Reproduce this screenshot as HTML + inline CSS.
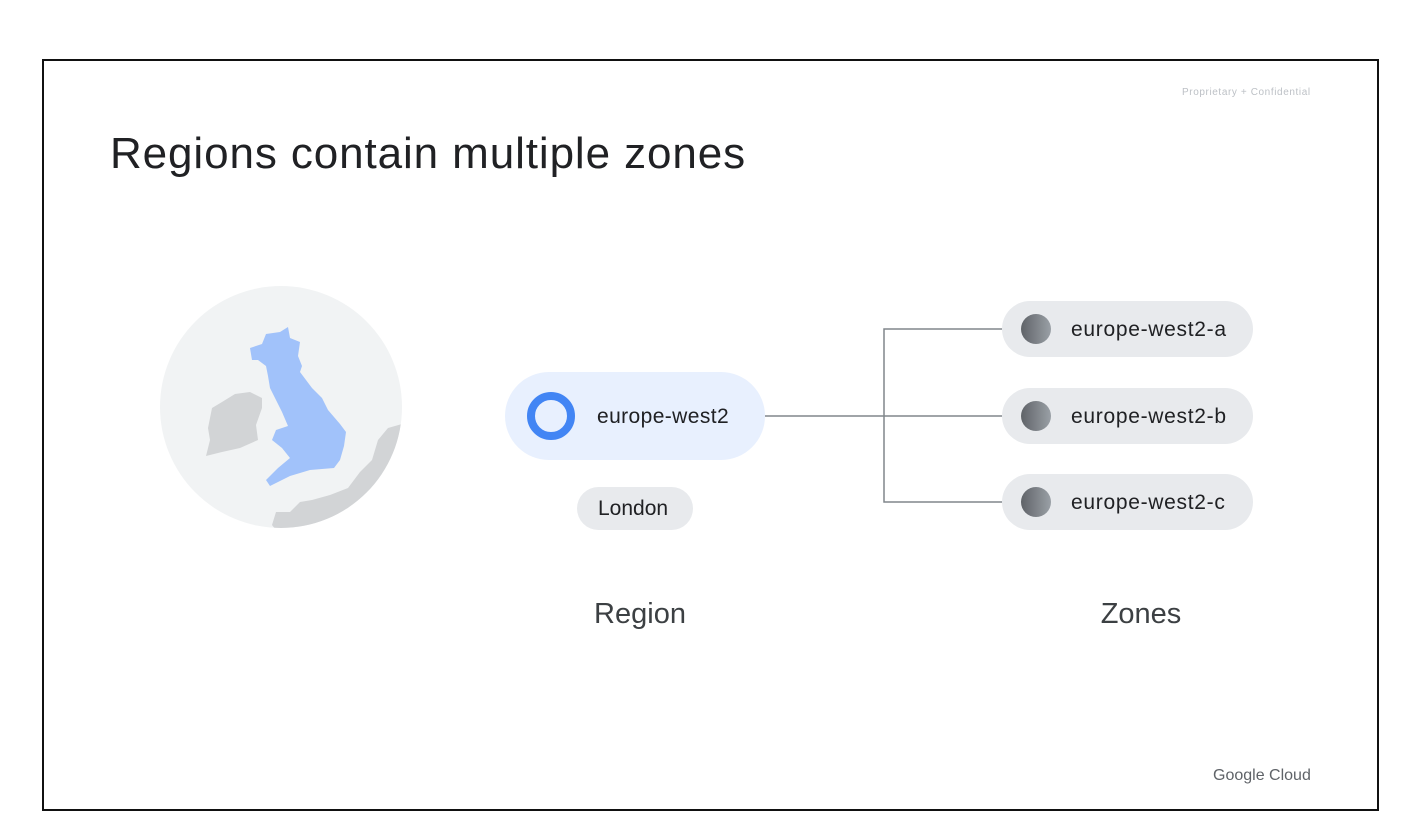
<!DOCTYPE html>
<html><head><meta charset="utf-8"><style>
body{margin:0;width:1410px;height:840px;background:#fff;font-family:"Liberation Sans",sans-serif;position:relative;overflow:hidden}
.frame{position:absolute;left:42px;top:59px;width:1333px;height:748px;border:2px solid #111}
.t{position:absolute;white-space:nowrap}
.pill{position:absolute;border-radius:30px;background:#e8eaed}
.dot{position:absolute;width:30px;height:30px;border-radius:50%;background:linear-gradient(90deg,#5f6368,#9aa0a6);left:19px;top:13px}
.zt{position:absolute;left:69px;top:17px;font-size:21px;color:#202124;letter-spacing:0.7px}
</style></head><body>
<div class="frame"></div>
<div class="t" style="left:1182px;top:87px;font-size:10px;color:#bdc1c6;letter-spacing:0.6px">Proprietary + Confidential</div>
<div class="t" style="left:110px;top:129px;font-size:44px;color:#202124;letter-spacing:0.9px">Regions contain multiple zones</div>
<svg style="position:absolute;left:0;top:0" width="1410" height="840">
<defs><clipPath id="g"><circle cx="281" cy="407" r="121"/></clipPath></defs>
<circle cx="281" cy="407" r="121" fill="#f1f3f4"/>
<g clip-path="url(#g)">
<path d="M402 424 L388 428 L378 440 L372 460 L360 472 L348 488 L330 495 L312 500 L300 502 L290 512 L276 512 L272 525 L280 535 L402 535 Z" fill="#d2d4d6"/>
<path d="M235 394 L250 392 L262 398 L262 408 L256 425 L258 440 L240 448 L222 452 L206 456 L210 440 L208 428 L212 408 L222 402 Z" fill="#d2d4d6"/>
<path d="M250 348 L262 344 L266 334 L280 332 L288 327 L290 338 L300 342 L298 356 L302 366 L300 372 L312 388 L322 398 L328 410 L340 424 L346 432 L344 446 L340 460 L334 468 L310 470 L290 476 L270 486 L266 480 L278 468 L290 458 L282 448 L272 440 L276 430 L288 426 L282 412 L276 400 L270 388 L268 376 L266 366 L258 360 L252 360 Z" fill="#a1c2fa"/>
</g>
<g stroke="#80868b" stroke-width="1.5" fill="none">
<line x1="765" y1="416" x2="1002" y2="416"/>
<polyline points="1002,329 884,329 884,502 1002,502"/>
</g>
</svg>
<div class="pill" style="left:505px;top:372px;width:260px;height:88px;border-radius:44px;background:#e8f0fe">
<div style="position:absolute;left:22px;top:20px;width:32px;height:32px;border:8px solid #4285f4;border-radius:50%"></div>
<div class="t" style="left:92px;top:33px;font-size:21px;color:#202124;letter-spacing:0.4px">europe-west2</div>
</div>
<div class="pill" style="left:577px;top:487px;width:116px;height:43px;border-radius:22px"><div class="t" style="left:21px;top:10px;font-size:21px;color:#202124">London</div></div>
<div class="pill" style="left:1002px;top:301px;width:251px;height:56px"><div class="dot"></div><div class="zt">europe-west2-a</div></div>
<div class="pill" style="left:1002px;top:388px;width:251px;height:56px"><div class="dot"></div><div class="zt">europe-west2-b</div></div>
<div class="pill" style="left:1002px;top:474px;width:251px;height:56px"><div class="dot"></div><div class="zt">europe-west2-c</div></div>
<div class="t" style="left:540px;top:598px;width:200px;text-align:center;font-size:29px;color:#3c4043">Region</div>
<div class="t" style="left:1041px;top:598px;width:200px;text-align:center;font-size:29px;color:#3c4043">Zones</div>
<div class="t" style="left:1213px;top:767px;font-size:16px;color:#5f6368">Google Cloud</div>
</body></html>
